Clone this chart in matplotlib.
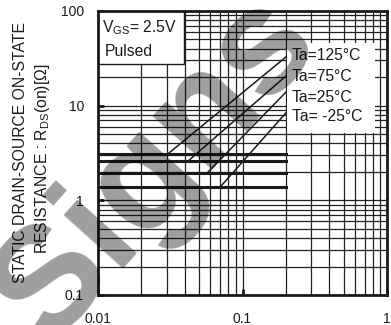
import numpy as np
import matplotlib
matplotlib.use("Agg")
import matplotlib.pyplot as plt
from matplotlib.patches import Rectangle

plt.rcParams['font.family'] = ['Liberation Sans', 'DejaVu Sans']
plt.rcParams['mathtext.fontset'] = 'custom'
plt.rcParams['mathtext.rm'] = 'Liberation Sans'

# drain current [A] and on-resistance [ohm] per ambient temperature
temps = ["Ta=125°C", "Ta=75°C", "Ta=25°C", "Ta= -25°C"]
i_start = 0.01
i_end = 0.2
r_flat = [3.1, 2.6, 1.95, 1.38]        # low-current plateau
i_knee = [0.0305, 0.042, 0.057, 0.07]  # where the curve leaves the plateau
r_end = [32.7, 20.6, 13.9, 8.4]        # resistance at i_end

x_ticks = [0.01, 0.1, 1]
x_ticklabels = ["0.01", "0.1", "1"]
y_ticks = [0.1, 1, 10, 100]
y_ticklabels = ["0.1", "1", "10", "100"]

ink = '#1a1a1a'

fig = plt.figure(figsize=(3.91, 3.25), dpi=100)
ax = fig.add_axes([98 / 391, 30 / 325, 289 / 391, 284 / 325])
ax.set_xscale('log')
ax.set_yscale('log')
ax.set_xlim(0.01, 1)
ax.set_ylim(0.1, 100)

ax.grid(True, which='both', color='#222222', lw=0.9)
ax.set_axisbelow(True)

for k in range(len(temps)):
    ax.plot([i_start, i_end], [r_flat[k], r_flat[k]], color=ink, lw=2.2, zorder=3)
    ax.plot([i_knee[k], i_end], [r_flat[k], r_end[k]], color=ink, lw=1.1, zorder=3)

ax.set_xticks(x_ticks)
ax.set_xticklabels(x_ticklabels)
ax.set_yticks(y_ticks)
ax.set_yticklabels(y_ticklabels)
ax.tick_params(which='major', direction='in', length=4, width=2, color=ink,
               labelsize=10, labelcolor=ink)
ax.tick_params(axis='x', pad=12)
ax.tick_params(axis='y', pad=10)
ax.tick_params(which='minor', length=0)
for sp in ax.spines.values():
    sp.set_linewidth(2)
    sp.set_color(ink)
    sp.set_zorder(6)

# condition box, top left
ax.add_patch(Rectangle((0, 0.813), 0.298, 0.187, transform=ax.transAxes,
                       facecolor='white', edgecolor=ink, lw=1, zorder=4))
ax.text(0.014, 0.940, r"V$_{\mathregular{GS}}$= 2.5V", transform=ax.transAxes,
        fontsize=11.3, color=ink, va='center', ha='left', zorder=5)
ax.text(0.024, 0.856, "Pulsed", transform=ax.transAxes,
        fontsize=11.3, color=ink, va='center', ha='left', zorder=5)

# temperature labels
ax.add_patch(Rectangle((0.654, 0.570), 0.304, 0.317, transform=ax.transAxes,
                       facecolor='white', edgecolor='none', zorder=4))
for k, lab in enumerate(temps):
    ax.text(0.671, [0.845, 0.771, 0.697, 0.627][k], lab, transform=ax.transAxes,
            fontsize=11.3, color=ink, va='center', ha='left', zorder=5)

fig.text(21 / 391, 0.53, "STATIC DRAIN-SOURCE ON-STATE", rotation=90,
         fontsize=11.3, color=ink, ha='center', va='center')
fig.text(43 / 391, 0.51, r"RESISTANCE : R$_{\mathregular{DS}}$(on)[Ω]", rotation=90,
         fontsize=11.3, color=ink, ha='center', va='center')

# grey overlay lettering
fig.text(0.40, 0.48, "Signs", rotation=48, fontsize=108, fontweight='bold',
         color='black', alpha=0.38, ha='center', va='center', zorder=10)

fig.savefig("out.png", dpi=100)
